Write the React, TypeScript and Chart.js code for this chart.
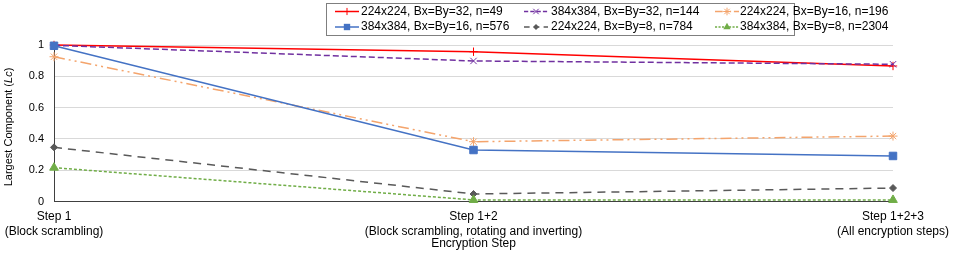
import React, { useEffect, useRef } from 'react';
import { Chart, registerables } from 'chart.js';

Chart.register(...registerables);

const categories: string[][] = [
  ['Step 1', '(Block scrambling)'],
  ['Step 1+2', '(Block scrambling, rotating and inverting)'],
  ['Step 1+2+3', '(All encryption steps)'],
];
const seriesNames = [
  '224x224, Bx=By=32, n=49',
  '384x384, Bx=By=32, n=144',
  '224x224, Bx=By=16, n=196',
  '384x384, Bx=By=16, n=576',
  '224x224, Bx=By=8, n=784',
  '384x384, Bx=By=8, n=2304',
];
const s224b32 = [1.0, 0.957, 0.866];
const s384b32 = [0.998, 0.898, 0.877];
const s224b16 = [0.925, 0.382, 0.418];
const s384b16 = [0.995, 0.329, 0.291];
const s224b8 = [0.346, 0.048, 0.086];
const s384b8 = [0.216, 0.01, 0.01];
const yTickLabels = ['0', '0.2', '0.4', '0.6', '0.8', '1'];
const xTitle = 'Encryption Step';
const yTitleParts = ['Largest Component (', 'Lc', ')'];

const FONT = "'Liberation Sans', Arial, sans-serif";

type Style = {
  color: string;
  dash: number[];
  marker: string;
  radius: number;
  order: number;
};

const styles: Style[] = [
  { color: '#ff0000', dash: [], marker: 'cross', radius: 4.2, order: 5 },
  { color: '#7030a0', dash: [6, 3], marker: 'crossRot', radius: 4.5, order: 4 },
  { color: '#f4a46c', dash: [11, 4, 2, 4, 2, 4], marker: 'star', radius: 4.5, order: 3 },
  { color: '#4472c4', dash: [], marker: 'rect', radius: 5.3, order: 2 },
  { color: '#595959', dash: [8, 6], marker: 'rectRot', radius: 3.5, order: 1 },
  { color: '#70ad47', dash: [3, 2], marker: 'triangle', radius: 5, order: 0 },
];

const seriesData = [s224b32, s384b32, s224b16, s384b16, s224b8, s384b8];

function drawMarker(ctx: CanvasRenderingContext2D, style: string, x: number, y: number, r: number, color: string) {
  ctx.save();
  ctx.strokeStyle = color;
  ctx.fillStyle = color;
  ctx.lineWidth = 1;
  ctx.setLineDash([]);
  ctx.beginPath();
  const d = r * Math.SQRT1_2;
  if (style === 'cross' || style === 'star') {
    ctx.moveTo(x, y - r);
    ctx.lineTo(x, y + r);
    ctx.moveTo(x - r, y);
    ctx.lineTo(x + r, y);
  }
  if (style === 'crossRot' || style === 'star') {
    ctx.moveTo(x - d, y - d);
    ctx.lineTo(x + d, y + d);
    ctx.moveTo(x + d, y - d);
    ctx.lineTo(x - d, y + d);
  }
  if (style === 'cross' || style === 'crossRot' || style === 'star') {
    ctx.stroke();
  } else if (style === 'rect') {
    ctx.rect(x - d, y - d, 2 * d, 2 * d);
    ctx.fill();
  } else if (style === 'rectRot') {
    ctx.moveTo(x, y - r);
    ctx.lineTo(x + r, y);
    ctx.lineTo(x, y + r);
    ctx.lineTo(x - r, y);
    ctx.closePath();
    ctx.fill();
  } else if (style === 'triangle') {
    const h = r * 1.5;
    const w = r * Math.sqrt(3) / 2;
    ctx.moveTo(x, y - r);
    ctx.lineTo(x + w, y + h - r);
    ctx.lineTo(x - w, y + h - r);
    ctx.closePath();
    ctx.fill();
  }
  ctx.restore();
}

const legendPlugin = {
  id: 'customLegend',
  afterDraw(chart: any) {
    const ctx: CanvasRenderingContext2D = chart.ctx;
    ctx.save();
    ctx.strokeStyle = '#7f7f7f';
    ctx.lineWidth = 1;
    ctx.strokeRect(326.5, 3.5, 468, 32);
    const colLine = [335, 524, 715];
    const colText = [361, 551, 740];
    const rowY = [11.5, 27];
    ctx.font = `12px ${FONT}`;
    ctx.textBaseline = 'middle';
    ctx.textAlign = 'left';
    seriesNames.forEach((name, i) => {
      const st = styles[i];
      const c = i % 3;
      const rr = Math.floor(i / 3);
      const x0 = colLine[c];
      const y = rowY[rr];
      ctx.save();
      ctx.strokeStyle = st.color;
      ctx.lineWidth = 1.5;
      ctx.setLineDash(st.dash.length ? st.dash.map((v) => v * 0.7) : []);
      ctx.beginPath();
      ctx.moveTo(x0, y);
      ctx.lineTo(x0 + 24, y);
      ctx.stroke();
      ctx.restore();
      drawMarker(ctx, st.marker, x0 + 12, y, st.radius * 0.85, st.color);
      ctx.fillStyle = '#000';
      ctx.fillText(name, colText[c], y);
    });
    ctx.restore();
  },
};

const yTitlePlugin = {
  id: 'yTitle',
  afterDraw(chart: any) {
    const ctx: CanvasRenderingContext2D = chart.ctx;
    ctx.save();
    const fNormal = `11px ${FONT}`;
    const fItalic = `italic 11px ${FONT}`;
    const fonts = [fNormal, fItalic, fNormal];
    const widths = yTitleParts.map((p, i) => {
      ctx.font = fonts[i];
      return ctx.measureText(p).width;
    });
    const total = widths.reduce((a, b) => a + b, 0);
    ctx.translate(9, 127);
    ctx.rotate(-Math.PI / 2);
    ctx.textBaseline = 'middle';
    ctx.textAlign = 'left';
    ctx.fillStyle = '#000';
    let x = -total / 2;
    yTitleParts.forEach((p, i) => {
      ctx.font = fonts[i];
      ctx.fillText(p, x, 0);
      x += widths[i];
    });
    ctx.restore();
  },
};

export default function App() {
  const ref = useRef<HTMLCanvasElement | null>(null);
  useEffect(() => {
    if (!ref.current) return;
    const chart = new Chart(ref.current, {
      type: 'line',
      data: {
        labels: categories,
        datasets: seriesData.map((d, i) => ({
          label: seriesNames[i],
          data: d,
          borderColor: styles[i].color,
          backgroundColor: styles[i].color,
          borderWidth: 1.5,
          borderDash: styles[i].dash,
          pointStyle: styles[i].marker as any,
          pointRadius: styles[i].radius,
          pointBorderColor: styles[i].color,
          pointBackgroundColor: styles[i].color,
          pointBorderWidth: 1,
          tension: 0,
          fill: false,
          clip: false as any,
          order: styles[i].order,
        })),
      },
      options: {
        responsive: false,
        animation: false,
        layout: { padding: { left: 0, right: 61, top: 45, bottom: 0 } },
        plugins: {
          legend: { display: false },
          tooltip: { enabled: false },
          title: { display: false },
        },
        scales: {
          x: {
            offset: false,
            grid: { display: false, drawTicks: false },
            border: { display: true, color: '#404040', width: 1 },
            ticks: {
              color: '#000',
              font: { family: FONT, size: 12, lineHeight: 1.25 },
              padding: 8,
              maxRotation: 0,
              autoSkip: false,
            },
            title: {
              display: true,
              text: xTitle,
              color: '#000',
              font: { family: FONT, size: 12 },
              padding: { top: 0, bottom: 10 },
            },
            afterFit: (scale: any) => {
              scale.height = 59.5;
              scale.paddingLeft = 0;
              scale.paddingRight = 0;
            },
          },
          y: {
            min: 0,
            max: 1,
            grid: { color: '#d9d9d9', drawTicks: false, lineWidth: 1 },
            border: { display: true, color: '#404040', width: 1 },
            ticks: {
              stepSize: 0.2,
              color: '#000',
              font: { family: FONT, size: 11 },
              padding: 10,
              callback: (_v: any, idx: number) => yTickLabels[idx],
            },
            afterFit: (scale: any) => {
              scale.width = 54;
              scale.paddingTop = 0;
              scale.paddingBottom = 0;
            },
          },
        },
      },
      plugins: [legendPlugin, yTitlePlugin],
    });
    return () => chart.destroy();
  }, []);
  return (
    <div style={{ position: 'fixed', left: 0, top: 0, width: 954, height: 261, background: '#fff' }}>
      <canvas ref={ref} width={954} height={261} style={{ width: 954, height: 261, display: 'block' }} />
    </div>
  );
}
